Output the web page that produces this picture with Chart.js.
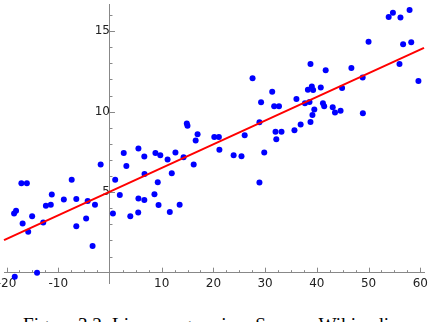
<!DOCTYPE html>
<html>
<head>
<meta charset="utf-8">
<script src="https://cdn.jsdelivr.net/npm/chart.js@4/dist/chart.umd.min.js"></script>
<style>
  html, body { margin: 0; padding: 0; background: #fff; overflow: hidden; }
  #wrap { position: relative; width: 428px; height: 322px; }
  #chart { display: block; }
  #caption {
    position: absolute; left: 23px; top: 314.5px;
    font-family: "Liberation Serif", serif; font-size: 19.2px; line-height: 1;
    white-space: nowrap; color: #000;
  }
</style>
</head>
<body>
<div id="wrap">
  <canvas id="chart" width="428" height="300"></canvas>
  <div id="caption">Figure 3.2: Linear regression. Source: Wikipedia</div>
</div>
<script>
// observed points
const pointsX = [
  -17.13, -16.07, -18.54, -18.16, -16.89, -15.05, -15.81, -12.90, -12.39, -11.44, -11.25,
  -8.92, -7.40, -6.51, -6.51, -4.61, -4.31, -2.90, -3.36, -1.80, -18.41, -14.10,
  0.57, 1.01, 1.90, 2.66, 3.17, 3.93, 5.50, 5.50, 5.46, 6.64, 6.64, 6.68, 8.60, 9.24,
  9.39, 8.79, 9.73, 11.14, 11.57, 11.95, 12.66, 13.47, 14.23, 16.19, 14.86, 14.99, 16.94,
  16.57, 20.17, 21.06, 21.16, 23.91, 25.43, 26.05, 27.57, 28.90, 28.90, 29.22, 29.83,
  31.37, 31.75, 32.68, 32.01, 33.17, 32.16, 35.67, 36.05, 36.87, 37.70, 38.58, 38.27,
  39.03, 39.28, 38.77, 38.77, 39.15, 39.51, 40.76, 41.71, 41.18, 41.42, 43.07, 43.51,
  44.59, 44.88, 46.68, 48.86, 48.90, 50.00, 53.89, 54.71, 56.17, 57.93, 56.68, 58.25,
  55.98, 59.64
];
const pointsY = [
  5.55, 5.55, 3.68, 3.84, 3.05, 3.51, 2.54, 3.11, 4.15, 4.22, 4.85,
  4.54, 5.77, 4.57, 2.88, 3.37, 4.46, 4.22, 1.65, 6.72, -0.25, -0.01,
  3.68, 5.78, 4.83, 7.44, 6.63, 3.51, 7.72, 4.60, 3.74, 7.21, 4.51, 6.13, 4.87, 5.61,
  4.20, 7.44, 7.29, 7.03, 3.77, 6.17, 7.46, 4.22, 7.17, 6.72, 9.26, 9.13, 8.60,
  8.21, 8.43, 8.43, 7.63, 7.29, 7.23, 8.53, 12.08, 9.34, 5.60, 10.59, 7.47,
  11.24, 10.34, 10.34, 8.76, 8.76, 8.29, 8.84, 10.79, 9.21, 10.53, 10.61, 11.36,
  11.57, 11.35, 12.97, 9.36, 9.79, 10.13, 11.51, 12.58, 10.53, 10.34, 10.28, 9.95,
  10.06, 11.47, 12.71, 12.13, 9.91, 14.34, 15.88, 16.14, 15.85, 16.32, 14.19, 14.31,
  12.96, 11.90
];
// fitted line, ends
const fitX = [-20.49, 60.72];
const fitY = [2.02, 13.97];

const xRange = [-20.49, 60.72];
const yRange = [-0.66, 16.69];
const xLabelStep = 10;
const yLabelStep = 5;

const axisColor = "#888";
const labelColor = "#222";

// small tick marks pointing into the plot
const axisTicks = {
  id: "axisTicks",
  beforeDatasetsDraw(chart) {
    const { ctx, scales: { x, y } } = chart;
    const x0 = x.getPixelForValue(0);
    const y0 = y.getPixelForValue(0);
    ctx.save();
    ctx.strokeStyle = axisColor;
    ctx.lineWidth = 1;
    ctx.beginPath();
    x.ticks.forEach(t => {
      if (t.value === 0) return;
      const px = Math.round(x.getPixelForValue(t.value)) + 0.5;
      const len = t.value % xLabelStep === 0 ? 5 : 2.5;
      ctx.moveTo(px, y0);
      ctx.lineTo(px, y0 - len);
    });
    y.ticks.forEach(t => {
      if (t.value === 0) return;
      const py = Math.round(y.getPixelForValue(t.value)) + 0.5;
      const len = t.value % yLabelStep === 0 ? 5 : 2.5;
      ctx.moveTo(x0, py);
      ctx.lineTo(x0 + len, py);
    });
    ctx.stroke();
    ctx.restore();
  }
};

const points = pointsX.map((v, i) => ({ x: v, y: pointsY[i] }));
const fit = fitX.map((v, i) => ({ x: v, y: fitY[i] }));

new Chart(document.getElementById("chart"), {
  type: "scatter",
  data: {
    datasets: [
      {
        type: "line",
        data: fit,
        borderColor: "#ff0000",
        borderWidth: 2,
        pointRadius: 0,
        fill: false,
        clip: false
      },
      {
        data: points,
        backgroundColor: "#0000ff",
        borderWidth: 0,
        pointRadius: 3,
        clip: false
      }
    ]
  },
  options: {
    responsive: false,
    animation: false,
    layout: { padding: { top: 1, left: 0, right: 0, bottom: 16.7 } },
    plugins: { legend: { display: false }, tooltip: { enabled: false } },
    scales: {
      x: {
        type: "linear",
        position: { y: 0 },
        min: xRange[0],
        max: xRange[1],
        grid: { display: false, drawTicks: false },
        border: { display: true, color: axisColor, width: 1 },
        ticks: {
          stepSize: 2.5,
          includeBounds: false,
          autoSkip: false,
          maxRotation: 0,
          padding: 4,
          color: labelColor,
          font: { family: "DejaVu Sans", size: 12 },
          callback: v => (v % xLabelStep === 0 && v !== 0 ? v : "")
        },
        afterFit(s) { s.height = 0; s.paddingLeft = 0; s.paddingRight = 0; }
      },
      y: {
        type: "linear",
        position: { x: 0 },
        min: yRange[0],
        max: yRange[1],
        grid: { display: false, drawTicks: false },
        border: { display: true, color: axisColor, width: 1 },
        ticks: {
          stepSize: 1,
          includeBounds: false,
          autoSkip: false,
          padding: 3,
          color: labelColor,
          font: { family: "DejaVu Sans", size: 12 },
          callback: v => (v % yLabelStep === 0 && v !== 0 ? v : "")
        },
        afterFit(s) { s.width = 0; s.paddingTop = 0; s.paddingBottom = 0; }
      }
    }
  },
  plugins: [axisTicks]
});
</script>
</body>
</html>
